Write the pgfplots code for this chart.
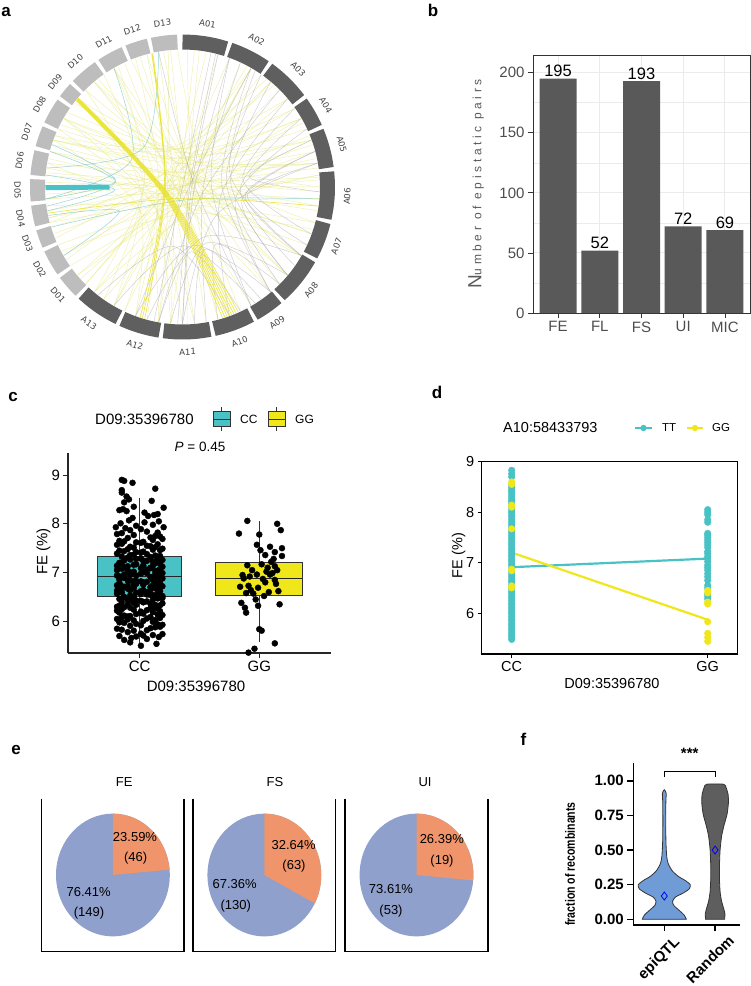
\documentclass[border=0pt]{standalone}
\usepackage{pgfplots}
\pgfplotsset{compat=1.18, /pgf/number format/assume math mode=true}
\usepgfplotslibrary{polar}
\usepackage{fontspec}
\setmainfont{Liberation Sans}
\newfontfamily\dejavu{DejaVu Sans}
\newcommand\fsz[1]{\fontsize{#1}{#1}\selectfont}

\definecolor{chrA}{HTML}{5F5F5F}
\definecolor{chrD}{HTML}{BDBDBD}
\definecolor{lnY}{HTML}{E6E67E}
\definecolor{lnYs}{HTML}{E9E22A}
\definecolor{lnG}{HTML}{9C9CA8}
\definecolor{lnT}{HTML}{6CC3CB}
\definecolor{tealc}{HTML}{48C2C5}
\definecolor{yelc}{HTML}{EFE71A}
\definecolor{barc}{HTML}{595959}
\definecolor{pieO}{HTML}{F0956B}
\definecolor{pieB}{HTML}{8EA0CB}
\definecolor{vioB}{HTML}{6F9BD6}
\definecolor{vioG}{HTML}{5E5E5E}
\definecolor{tickg}{HTML}{4D4D4D}

\tikzset{
 lY/.style={smooth, mark=none, draw=lnY, line width=0.45pt, opacity=0.6},
 lG/.style={smooth, mark=none, draw=lnG, line width=0.45pt, opacity=0.5},
 lT/.style={smooth, mark=none, draw=lnT, line width=0.5pt, opacity=0.7},
 lYs/.style={smooth, mark=none, draw=lnYs, line width=0.6pt, opacity=0.9}}

% link between two angles (circos)
\newcommand\lk[3]{%
 \pgfmathsetmacro\lkd{mod(#2-(#1)+540,360)-180}%
 \pgfmathsetmacro\lkm{#1+\lkd/2}%
 \pgfmathsetmacro\lkr{68.5*cos(\lkd/2)}%
 \edef\lktmp{\noexpand\addplot[#3] coordinates {(#1,137) (\lkm,\lkr) (#2,137)};}\lktmp}
% chromosome segment
\newcommand\seg[3]{%
 \pgfmathsetmacro\sA{#1+(#2-(#1))*0.25}%
 \pgfmathsetmacro\sB{#1+(#2-(#1))*0.5}%
 \pgfmathsetmacro\sC{#1+(#2-(#1))*0.75}%
 \edef\segtmp{\noexpand\addplot[draw=#3, line width=15pt, smooth, mark=none] coordinates {(#1,145) (\sA,145) (\sB,145) (\sC,145) (#2,145)};}\segtmp}
\newcommand\lab[3]{\node[rotate=#3, font=\dejavu\fsz{8.5}, text=black!75] at (axis cs:#1,165) {#2};}

\begin{document}
\begin{tikzpicture}
\path[use as bounding box] (0pt,0pt) rectangle (751pt,-986pt);

%%%%%%%%%%%%%%%% panel a
\begin{polaraxis}[at={(182.5pt,-187pt)}, anchor=center, width=305pt, height=305pt, scale only axis,
  hide axis, ymin=0, ymax=152.5, xmin=0, xmax=360, clip=false]
\lk{160}{20}{lY} \lk{165}{10}{lY} \lk{170}{15}{lY} \lk{174}{4}{lY} \lk{185}{-5}{lY} \lk{190}{12}{lY}
\lk{195}{-15}{lY} \lk{155}{25}{lY} \lk{150}{30}{lY} \lk{158}{-8}{lY} \lk{168}{-20}{lY} \lk{172}{-30}{lY}
\lk{178}{0}{lY} \lk{183}{8}{lY} \lk{188}{-25}{lY} \lk{193}{3}{lY} \lk{197}{18}{lY} \lk{162}{-2}{lY}
\lk{153}{40}{lY} \lk{147}{35}{lY}
\lk{100}{-95}{lY} \lk{105}{-100}{lY} \lk{110}{-110}{lY} \lk{95}{-80}{lY} \lk{85}{-100}{lY} \lk{80}{-120}{lY}
\lk{115}{-85}{lY} \lk{120}{-70}{lY} \lk{125}{-125}{lY} \lk{130}{-60}{lY} \lk{118}{-130}{lY} \lk{98}{-65}{lY}
\lk{88}{-75}{lY} \lk{75}{-108}{lY} \lk{60}{-120}{lY} \lk{65}{-95}{lY} \lk{50}{-140}{lY} \lk{45}{-130}{lY}
\lk{70}{-135}{lY} \lk{105}{-50}{lY} \lk{112}{-40}{lY} \lk{92}{-45}{lY}
\lk{-140}{15}{lY} \lk{-145}{5}{lY} \lk{-150}{30}{lY} \lk{-155}{-5}{lY} \lk{-160}{22}{lY} \lk{-138}{40}{lY}
\lk{-148}{55}{lY} \lk{-158}{60}{lY} \lk{-165}{50}{lY}
\lk{20}{140}{lY} \lk{10}{150}{lY} \lk{0}{130}{lY} \lk{30}{160}{lY} \lk{160}{48}{lY} \lk{158}{52}{lY}
\lk{-40}{130}{lY} \lk{-30}{120}{lY} \lk{-50}{150}{lY} \lk{-20}{165}{lY} \lk{-10}{175}{lY} \lk{-100}{170}{lY}
\lk{-110}{160}{lY} \lk{-90}{150}{lY} \lk{-120}{135}{lY} \lk{-105}{120}{lY} \lk{-95}{140}{lY} \lk{-85}{155}{lY}
\lk{-115}{60}{lY} \lk{-125}{20}{lY} \lk{-130}{5}{lY}
\lk{142}{10}{lY} \lk{135}{-15}{lY} \lk{128}{-30}{lY} \lk{-175}{35}{lY} \lk{-167}{28}{lY} \lk{-152}{-18}{lY}
\lk{108}{-75}{lY} \lk{96}{-115}{lY} \lk{83}{-88}{lY} \lk{-135}{62}{lY}
\lk{70}{-60}{lG} \lk{60}{-50}{lG} \lk{55}{-45}{lG} \lk{65}{-80}{lG} \lk{50}{-40}{lG} \lk{30}{-35}{lG}
\lk{25}{-50}{lG} \lk{15}{-40}{lG} \lk{40}{-70}{lG} \lk{45}{-100}{lG} \lk{75}{-90}{lG} \lk{35}{-20}{lG}
\lk{20}{-2}{lG} \lk{-85}{-55}{lG} \lk{-100}{-65}{lG} \lk{-110}{-50}{lG} \lk{-95}{-40}{lG} \lk{-120}{-58}{lG}
\lk{-110}{60}{lG} \lk{-90}{70}{lG} \lk{100}{-60}{lG} \lk{78}{-102}{lG} \lk{76}{-92}{lG} \lk{15}{-30}{lG}
\lk{10}{-25}{lG} \lk{58}{-30}{lG} \lk{-75}{-45}{lG} \lk{-105}{-30}{lG} \lk{-128}{-70}{lG} \lk{-90}{10}{lG}
\lk{185}{165}{lT} \lk{-170}{175}{lT} \lk{-172}{162}{lT} \lk{-168}{-150}{lT} \lk{-175}{120}{lT}
\lk{-163}{-5}{lT} \lk{172}{100}{lT}
\lk{139.5}{-66}{lYs} \lk{139.7}{-67}{lYs} \lk{139.9}{-68}{lYs} \lk{140.1}{-69}{lYs} \lk{140.3}{-70}{lYs}
\lk{140.5}{-71}{lYs} \lk{140.7}{-72}{lYs} \lk{140.9}{-73}{lYs}
\lk{102.5}{-107}{lYs} \lk{102.8}{-108}{lYs} \lk{103}{-106}{lYs} \lk{-169}{-8}{lYs}
\addplot[draw=tealc, line width=5pt, mark=none] coordinates {(180.3,137) (180,73)};
% ring
\seg{90}{72.5}{chrA} \seg{71}{55.5}{chrA} \seg{54}{37}{chrA} \seg{35.5}{24}{chrA} \seg{22.5}{7.5}{chrA}
\seg{6}{-12.5}{chrA} \seg{-14}{-28}{chrA} \seg{-29.5}{-48}{chrA} \seg{-49.5}{-60.5}{chrA} \seg{-62}{-77.5}{chrA}
\seg{-79}{-97.5}{chrA} \seg{-99}{-114.5}{chrA} \seg{-116}{-133}{chrA}
\seg{-134.5}{-143.5}{chrD} \seg{-145}{-155}{chrD} \seg{-156.5}{-163.5}{chrD} \seg{-165}{-173}{chrD}
\seg{-174.5}{-183}{chrD} \seg{-184.5}{-194}{chrD} \seg{-195.5}{-203.5}{chrD} \seg{-205}{-215}{chrD}
\seg{-216.5}{-222.5}{chrD} \seg{-224}{-235}{chrD} \seg{-236.5}{-246.5}{chrD} \seg{-248}{-256.5}{chrD}
\seg{-258}{-268}{chrD}
\lab{81.25}{A01}{-8.75} \lab{63.25}{A02}{-26.75} \lab{45.5}{A03}{-44.5} \lab{29.75}{A04}{-60.25}
\lab{15}{A05}{-75} \lab{-3.25}{A06}{86.75} \lab{-21}{A07}{69} \lab{-38.75}{A08}{51.25}
\lab{-55}{A09}{35} \lab{-69.75}{A10}{20.25} \lab{-88.25}{A11}{1.75} \lab{-106.75}{A12}{-16.75}
\lab{-124.5}{A13}{-34.5}
\lab{-139}{D01}{-49} \lab{-150}{D02}{-60} \lab{-160}{D03}{-70} \lab{-169}{D04}{-79} \lab{-178.75}{D05}{-88.75}
\lab{170.75}{D06}{80.75} \lab{160.5}{D07}{70.5} \lab{150}{D08}{60} \lab{140.5}{D09}{50.5}
\lab{130.5}{D10}{40.5} \lab{118.5}{D11}{28.5} \lab{107.75}{D12}{17.75} \lab{97}{D13}{7}
\end{polaraxis}

%%%%%%%%%%%%%%%% panel b
\begin{axis}[at={(533pt,-55pt)}, anchor=north west, width=217pt, height=258pt, scale only axis,
  xmin=-0.6, xmax=4.6, ymin=0, ymax=214.7, ybar, bar width=37pt,
  xtick={0,1,2,3,4}, xticklabels={FE,FL,FS,UI,MIC},
  ytick={0,50,100,150,200}, minor ytick={25,75,125,175},
  grid=both, major grid style={color=black!8, line width=1pt}, minor grid style={color=black!8, line width=0.5pt},
  axis line style={black!80, line width=1pt},
  tick style={black!80, line width=0.8pt}, tick align=outside, major tick length=5pt, minor tick length=0pt,
  xtick pos=bottom, ytick pos=left,
  ticklabel style={font=\fsz{15}, text=tickg},
  nodes near coords, every node near coord/.append style={font=\fsz{16.5}, text=black, inner sep=1.5pt}]
\addplot[fill=barc, draw=none] coordinates {(0,195) (1,52) (2,193) (3,72) (4,69)};
\end{axis}

%%%%%%%%%%%%%%%% panel c
\begin{axis}[at={(68pt,-453pt)}, anchor=north west, width=263pt, height=200pt, scale only axis,
  xmin=0.4, xmax=2.6, ymin=5.352, ymax=9.451,
  axis x line*=bottom, axis y line*=left, axis line style={-, line width=1.1pt, black!85},
  xtick={1,2}, xticklabels={CC,GG}, ytick={6,7,8,9},
  tick align=outside, major tick length=4.5pt, tick style={line width=1pt, black!85},
  ticklabel style={font=\fsz{15}}]
% CC box: whiskers 5.50 / 8.53, quartiles 6.51 / 7.33, median 6.92
\addplot[black!80, line width=0.8pt, mark=none] coordinates {(1,7.33) (1,8.53)};
\addplot[black!80, line width=0.8pt, mark=none] coordinates {(1,6.51) (1,5.50)};
\addplot[fill=tealc, draw=black!80, line width=0.8pt, mark=none] coordinates {(0.65,6.51) (1.35,6.51) (1.35,7.33) (0.65,7.33)} -- cycle;
\addplot[black!85, line width=1.8pt, mark=none] coordinates {(0.65,6.92) (1.35,6.92)};
% GG box: whiskers 5.58 / 8.06, quartiles 6.54 / 7.20, median 6.88
\addplot[black!80, line width=0.8pt, mark=none] coordinates {(2,7.20) (2,8.06)};
\addplot[black!80, line width=0.8pt, mark=none] coordinates {(2,6.54) (2,5.58)};
\addplot[fill=yelc, draw=black!80, line width=0.8pt, mark=none] coordinates {(1.63,6.54) (2.36,6.54) (2.36,7.20) (1.63,7.20)} -- cycle;
\addplot[black!85, line width=1.8pt, mark=none] coordinates {(1.63,6.88) (2.36,6.88)};
\addplot[only marks, mark=*, mark size=3pt, black] coordinates {
(1.01,5.50) (1.14,5.54) (0.92,5.57)
(0.93,5.66) (1.16,5.68) (0.87,5.62) (1.06,5.64) (0.97,5.69)
(0.83,5.70) (1.01,5.75) (1.11,5.72) (0.90,5.78) (1.19,5.74) (1.03,5.71)
(0.85,5.83) (1.09,5.86) (0.95,5.81) (1.13,5.88) (0.81,5.85) (1.06,5.82) (1.17,5.89)
(0.92,5.91) (1.15,5.94) (0.87,5.97) (1.01,5.92) (1.11,5.99) (0.97,5.95) (1.19,5.93) (0.83,5.98)
(1.03,6.01) (0.90,6.04) (1.17,6.07) (0.95,6.02) (1.09,6.09) (0.81,6.05) (1.13,6.03) (0.85,6.08) (1.06,6.06)
(0.92,6.11) (1.15,6.14) (1.01,6.17) (0.87,6.12) (1.11,6.19) (0.97,6.15) (1.19,6.13) (0.83,6.18) (1.03,6.16) (0.90,6.10)
(1.17,6.21) (0.95,6.24) (1.09,6.27) (0.81,6.22) (1.13,6.29) (0.85,6.25) (1.06,6.23) (0.92,6.28) (1.15,6.26) (1.01,6.20) (0.87,6.29)
(1.11,6.31) (0.97,6.34) (1.19,6.37) (0.83,6.32) (1.03,6.39) (0.90,6.35) (1.17,6.33) (0.95,6.38) (1.09,6.36) (0.81,6.30) (1.13,6.34) (0.85,6.39)
(1.06,6.41) (0.92,6.44) (1.15,6.47) (1.01,6.42) (0.87,6.49) (1.11,6.45) (0.97,6.43) (1.19,6.48) (0.83,6.46) (1.03,6.40) (0.90,6.44) (1.17,6.49)
(0.95,6.51) (1.09,6.54) (0.81,6.57) (1.13,6.52) (0.85,6.59) (1.06,6.55) (0.92,6.53) (1.15,6.58) (1.01,6.56) (0.87,6.50) (1.11,6.54) (0.97,6.59) (1.19,6.52)
(0.83,6.61) (1.03,6.64) (0.90,6.67) (1.17,6.62) (0.95,6.69) (1.09,6.65) (0.81,6.63) (1.13,6.68) (0.85,6.66) (1.06,6.60) (0.92,6.64) (1.15,6.69) (1.01,6.62)
(0.87,6.71) (1.11,6.74) (0.97,6.77) (1.19,6.72) (0.83,6.79) (1.03,6.75) (0.90,6.73) (1.17,6.78) (0.95,6.76) (1.09,6.70) (0.81,6.74) (1.13,6.79) (0.85,6.72)
(1.06,6.81) (0.92,6.84) (1.15,6.87) (1.01,6.82) (0.87,6.89) (1.11,6.85) (0.97,6.83) (1.19,6.88) (0.83,6.86) (1.03,6.80) (0.90,6.84) (1.17,6.89) (0.95,6.82)
(1.09,6.91) (0.81,6.94) (1.13,6.97) (0.85,6.92) (1.06,6.99) (0.92,6.95) (1.15,6.93) (1.01,6.98) (0.87,6.96) (1.11,6.90) (0.97,6.94) (1.19,6.99) (0.83,6.92)
(1.03,7.01) (0.90,7.04) (1.17,7.07) (0.95,7.02) (1.09,7.09) (0.81,7.05) (1.13,7.03) (0.85,7.08) (1.06,7.06) (0.92,7.00) (1.15,7.04) (1.01,7.09)
(0.87,7.11) (1.11,7.14) (0.97,7.17) (1.19,7.12) (0.83,7.19) (1.03,7.15) (0.90,7.13) (1.17,7.18) (0.95,7.16) (1.09,7.10) (0.81,7.14) (1.13,7.19)
(0.85,7.21) (1.06,7.24) (0.92,7.27) (1.15,7.22) (1.01,7.29) (0.87,7.25) (1.11,7.23) (0.97,7.28) (1.19,7.26) (0.83,7.20) (1.03,7.24)
(0.90,7.31) (1.17,7.34) (0.95,7.37) (1.09,7.32) (0.81,7.39) (1.13,7.35) (0.85,7.33) (1.06,7.38) (0.92,7.36) (1.15,7.30)
(1.01,7.41) (0.87,7.44) (1.11,7.47) (0.97,7.42) (1.19,7.49) (0.83,7.45) (1.03,7.43) (0.90,7.48) (1.17,7.46)
(0.95,7.51) (1.09,7.54) (0.81,7.57) (1.13,7.52) (0.85,7.59) (1.06,7.55) (0.92,7.53) (1.15,7.58)
(1.01,7.61) (0.87,7.64) (1.11,7.67) (0.97,7.62) (1.19,7.69) (0.83,7.65) (1.03,7.63)
(0.90,7.71) (1.17,7.74) (0.95,7.77) (1.09,7.72) (0.81,7.79) (1.13,7.75)
(0.85,7.81) (1.06,7.84) (0.92,7.87) (1.15,7.82) (1.01,7.89)
(0.80,7.93) (1.20,7.93) (0.97,7.96) (1.11,7.98) (0.88,7.91)
(1.04,8.03) (0.91,8.07) (1.16,8.05) (0.84,8.01)
(1.07,8.16) (0.94,8.12) (1.12,8.18)
(1.15,8.20) (1.04,8.23) (0.83,8.28) (0.89,8.26)
(0.86,8.30) (0.95,8.35) (1.20,8.33)
(1.10,8.47) (0.87,8.44) (0.91,8.50) (0.89,8.56) (0.85,8.64)
(1.13,8.72) (0.85,8.69) (0.85,8.90) (0.87,8.88) (0.94,8.84)
};
\addplot[only marks, mark=*, mark size=3pt, black] coordinates {
(1.90,8.06) (2.15,8.00) (2.18,7.87) (1.83,7.80) (2.00,7.78) (1.98,7.57) (2.09,7.53) (2.19,7.50)
(2.01,7.46) (2.13,7.42) (2.19,7.34) (2.10,7.22) (2.02,7.17) (2.13,7.13) (2.15,7.05) (2.06,7.02)
(1.98,6.96) (2.09,6.96) (1.92,6.92) (1.87,6.88) (2.03,6.87) (2.13,6.85) (1.84,6.71) (1.91,6.73)
(2.14,6.77) (1.99,6.69) (1.89,6.58) (1.95,6.57) (2.04,6.52) (1.85,6.38) (2.17,6.35) (1.99,6.32)
(1.88,6.28) (1.89,6.18) (2.00,5.84) (2.02,5.81) (1.96,5.44) (1.91,5.36) (2.13,5.55)
(2.07,7.10) (1.94,7.05) (2.11,6.99) (1.86,6.95) (2.05,6.80) (1.93,6.64) (2.16,6.62) (2.08,6.60)
(1.97,6.45) (2.12,7.28) (2.05,7.36) (1.90,7.15)
};
\end{axis}

%%%%%%%%%%%%%%%% panel d
\begin{axis}[at={(481.7pt,-461.7pt)}, anchor=north west, width=256pt, height=192.3pt, scale only axis,
  xmin=0.847, xmax=2.153, ymin=5.19, ymax=9,
  axis line style={line width=1.2pt, black}, xtick={1,2}, xticklabels={CC,GG}, ytick={6,7,8,9},
  xtick pos=bottom, ytick pos=left, tick align=outside, major tick length=4pt,
  tick style={black, line width=1pt}, ticklabel style={font=\fsz{14.5}}]
\addplot[only marks, mark=*, mark size=3.3pt, tealc] coordinates {
(1,5.48) (1,5.53) (1,5.57) (1,5.61) (1,5.66) (1,5.70) (1,5.75) (1,5.79) (1,5.84) (1,5.88) (1,5.93)
(1,5.98) (1,6.02) (1,6.07) (1,6.11) (1,6.16) (1,6.20) (1,6.25) (1,6.30) (1,6.34) (1,6.39) (1,6.43)
(1,6.48) (1,6.52) (1,6.57) (1,6.62) (1,6.66) (1,6.71) (1,6.75) (1,6.80) (1,6.84) (1,6.89) (1,6.94)
(1,6.98) (1,7.03) (1,7.07) (1,7.12) (1,7.16) (1,7.21) (1,7.26) (1,7.30) (1,7.35) (1,7.39) (1,7.44)
(1,7.48) (1,7.53) (1,7.58) (1,7.62) (1,7.67) (1,7.71) (1,7.76) (1,7.80) (1,7.85) (1,7.90) (1,7.94)
(1,7.99) (1,8.03) (1,8.08) (1,8.12) (1,8.17) (1,8.22) (1,8.26) (1,8.31) (1,8.35) (1,8.40) (1,8.44)
(1,8.49) (1,8.54) (1,8.70) (1,8.76) (1,8.83)
(2,8.05) (2,8.00) (2,7.95) (2,7.85) (2,7.80) (2,7.58) (2,7.55) (2,7.50) (2,7.45) (2,7.40) (2,7.35)
(2,7.30) (2,7.22) (2,7.18) (2,7.12) (2,7.08) (2,7.02) (2,6.95) (2,6.90) (2,6.85) (2,6.78) (2,6.72)
(2,6.65) (2,6.55) (2,6.50) (2,6.38) (2,6.33) (2,6.28)
};
\addplot[only marks, mark=*, mark size=3.3pt, yelc] coordinates {
(1,8.60) (1,8.55) (1,8.14) (1,8.10) (1,7.67) (1,6.87) (1,6.84) (1,6.54) (1,6.50)
(2,6.45) (2,6.40) (2,6.22) (2,6.18) (2,5.83) (2,5.60) (2,5.52) (2,5.44)
};
\addplot[tealc, line width=2.2pt, mark=none] coordinates {(1,6.91) (2,7.08)};
\addplot[yelc, line width=2.2pt, mark=none] coordinates {(1,7.20) (2,5.87)};
\end{axis}

%%%%%%%%%%%%%%%% panel e
\begin{axis}[at={(41.8pt,-798.6pt)}, anchor=north west, width=142.2pt, height=152.8pt, scale only axis,
  hide axis, xmin=-1.25, xmax=1.25, ymin=-1.245, ymax=1.245, clip=false]
\fill[pieB] (axis cs:0,0) ellipse [x radius=56.9pt, y radius=61.4pt];
\fill[pieO] (axis cs:0,0) -- (axis cs:0,1) arc [start angle=90, end angle={90-3.6*23.59}, x radius=56.9pt, y radius=61.4pt] -- cycle;
\draw[line width=1.2pt] (rel axis cs:0,1) -- (rel axis cs:0,0) -- (rel axis cs:1,0) -- (rel axis cs:1,1);
\end{axis}
\begin{axis}[at={(193pt,-798.6pt)}, anchor=north west, width=142.7pt, height=152.8pt, scale only axis,
  hide axis, xmin=-1.25, xmax=1.25, ymin=-1.245, ymax=1.245, clip=false]
\fill[pieB] (axis cs:0,0) ellipse [x radius=56.9pt, y radius=61.4pt];
\fill[pieO] (axis cs:0,0) -- (axis cs:0,1) arc [start angle=90, end angle={90-3.6*32.64}, x radius=56.9pt, y radius=61.4pt] -- cycle;
\draw[line width=1.2pt] (rel axis cs:0,1) -- (rel axis cs:0,0) -- (rel axis cs:1,0) -- (rel axis cs:1,1);
\end{axis}
\begin{axis}[at={(345pt,-798.6pt)}, anchor=north west, width=143pt, height=152.8pt, scale only axis,
  hide axis, xmin=-1.25, xmax=1.25, ymin=-1.245, ymax=1.245, clip=false]
\fill[pieB] (axis cs:0,0) ellipse [x radius=56.9pt, y radius=61.4pt];
\fill[pieO] (axis cs:0,0) -- (axis cs:0,1) arc [start angle=90, end angle={90-3.6*26.39}, x radius=56.9pt, y radius=61.4pt] -- cycle;
\draw[line width=1.2pt] (rel axis cs:0,1) -- (rel axis cs:0,0) -- (rel axis cs:1,0) -- (rel axis cs:1,1);
\end{axis}

%%%%%%%%%%%%%%%% panel f
\begin{axis}[at={(633.3pt,-763pt)}, anchor=north west, width=106.7pt, height=162pt, scale only axis,
  xmin=0.39, xmax=2.49, ymin=-0.041, ymax=1.128,
  axis x line*=bottom, axis y line*=left, axis line style={-, line width=1.5pt},
  xtick={1,2}, xticklabels={epiQTL,Random}, ytick={0,0.25,0.5,0.75,1},
  yticklabels={0.00,0.25,0.50,0.75,1.00},
  tick align=outside, major tick length=6pt, tick style={line width=1.5pt, black},
  yticklabel style={font=\bfseries\fsz{15}},
  xticklabel style={font=\bfseries\fsz{15}, xshift=-5pt, yshift=-28pt, rotate=45, anchor=center},
  clip=false]
\addplot[fill=vioB, draw=black!80, line width=0.8pt, smooth, tension=0.4] coordinates {
(1.433,0) (1.394,0.03) (1.276,0.07) (1.187,0.10) (1.163,0.13) (1.217,0.16) (1.374,0.19) (1.492,0.22)
(1.512,0.25) (1.413,0.28) (1.276,0.31) (1.157,0.35) (1.079,0.40) (1.049,0.45) (1.033,0.55) (1.028,0.70)
(1.031,0.85) (1.037,0.91) (1,0.935)
(0.963,0.91) (0.969,0.85) (0.972,0.70) (0.967,0.55) (0.951,0.45) (0.921,0.40) (0.843,0.35) (0.724,0.31)
(0.587,0.28) (0.488,0.25) (0.508,0.22) (0.626,0.19) (0.783,0.16) (0.837,0.13) (0.813,0.10) (0.724,0.07)
(0.606,0.03) (0.567,0)} -- cycle;
\addplot[fill=vioG, draw=black!80, line width=0.8pt, smooth, tension=0.4] coordinates {
(2.187,0) (2.193,0.04) (2.167,0.08) (2.128,0.13) (2.098,0.2) (2.085,0.3) (2.087,0.4) (2.098,0.5)
(2.128,0.6) (2.177,0.68) (2.236,0.76) (2.262,0.84) (2.256,0.9) (2.217,0.95) (2.167,0.975)
(1.833,0.975) (1.783,0.95) (1.744,0.9) (1.738,0.84) (1.764,0.76) (1.823,0.68) (1.872,0.6) (1.902,0.5)
(1.913,0.4) (1.915,0.3) (1.902,0.2) (1.872,0.13) (1.833,0.08) (1.807,0.04) (1.813,0)} -- cycle;
\addplot[only marks, mark=diamond, mark size=4pt, blue, mark options={line width=0.8pt}] coordinates {(1,0.168) (2,0.50)};
\draw[line width=1pt] (axis cs:1,1.027) -- (axis cs:1,1.07) -- (axis cs:2,1.07) -- (axis cs:2,1.027);
\node[font=\bfseries\fsz{15}] at (axis cs:1.5,1.2) {***};
\end{axis}

%%%%%%%%%%%%%%%% texts
\begin{scope}[x=1pt, y=-1pt]
% panel letters
\node[font=\bfseries\fsz{17}] at (6,12) {a};
\node[font=\bfseries\fsz{17}] at (433,10) {b};
\node[font=\bfseries\fsz{17}] at (13,397) {c};
\node[font=\bfseries\fsz{17}] at (437,392) {d};
\node[font=\bfseries\fsz{17}] at (16,750) {e};
\node[font=\bfseries\fsz{17}] at (523.5,739) {f};
% panel b label
\node[rotate=90, text=black!65] at (476,184) {{\fsz{19}N}{\fsz{12}\addfontfeature{LetterSpace=30}umber of epistatic pairs}};
% panel c
\node[anchor=west, inner sep=0, font=\fsz{15}] at (95,419) {D09:35396780};
\fill[tealc] (213.3,411.7) rectangle (230,426.7);
\draw[black!80, line width=0.8pt] (213.3,411.7) rectangle (230,426.7);
\draw[black!80, line width=0.8pt] (221.6,407) -- (221.6,411.7) (221.6,426.7) -- (221.6,431) (213.3,419.2) -- (230,419.2);
\node[anchor=west, inner sep=0, font=\fsz{12}] at (240,419) {CC};
\fill[yelc] (268.3,411.7) rectangle (285,426.7);
\draw[black!80, line width=0.8pt] (268.3,411.7) rectangle (285,426.7);
\draw[black!80, line width=0.8pt] (276.6,407) -- (276.6,411.7) (276.6,426.7) -- (276.6,431) (268.3,419.2) -- (285,419.2);
\node[anchor=west, inner sep=0, font=\fsz{12}] at (295,419) {GG};
\node[font=\fsz{13.5}] at (200,447) {\textit{P} = 0.45};
\node[rotate=90, font=\fsz{15}] at (43.5,551.5) {FE (\%)};
\node[font=\fsz{15}] at (196,686) {D09:35396780};
% panel d
\node[anchor=west, inner sep=0, font=\fsz{14.5}] at (503,428) {A10:58433793};
\draw[tealc, line width=2.2pt] (635,428) -- (652,428);
\fill[tealc] (643.5,428) circle[radius=3.2pt];
\node[anchor=west, inner sep=0, font=\fsz{11.5}] at (662,428) {TT};
\draw[yelc, line width=2.2pt] (687,428) -- (703,428);
\fill[yelc] (695,428) circle[radius=3.2pt];
\node[anchor=west, inner sep=0, font=\fsz{11.5}] at (712,428) {GG};
\node[rotate=90, font=\fsz{14.5}] at (458.5,555.5) {FE (\%)};
\node[font=\fsz{14.5}] at (612,683) {D09:35396780};
% panel e
\node[font=\fsz{13}] at (124.3,782.5) {FE};
\node[font=\fsz{13}] at (275,782.5) {FS};
\node[font=\fsz{13}] at (425,782.5) {UI};
\node[font=\fsz{13}] at (135,836.8) {23.59\%};
\node[font=\fsz{13}] at (135.7,858) {(46)};
\node[font=\fsz{13}] at (88.6,892) {76.41\%};
\node[font=\fsz{13}] at (89,913.6) {(149)};
\node[font=\fsz{13}] at (293.6,845) {32.64\%};
\node[font=\fsz{13}] at (294,866.4) {(63)};
\node[font=\fsz{13}] at (234.6,883.6) {67.36\%};
\node[font=\fsz{13}] at (235.7,905.7) {(130)};
\node[font=\fsz{13}] at (441.8,839) {26.39\%};
\node[font=\fsz{13}] at (442,861) {(19)};
\node[font=\fsz{13}] at (391,889) {73.61\%};
\node[font=\fsz{13}] at (391,911) {(53)};
% panel f
\node[rotate=90, xscale=0.78, font=\bfseries\fsz{13.5}] at (570,864) {fraction of recombinants};
\end{scope}
\end{tikzpicture}
\end{document}
